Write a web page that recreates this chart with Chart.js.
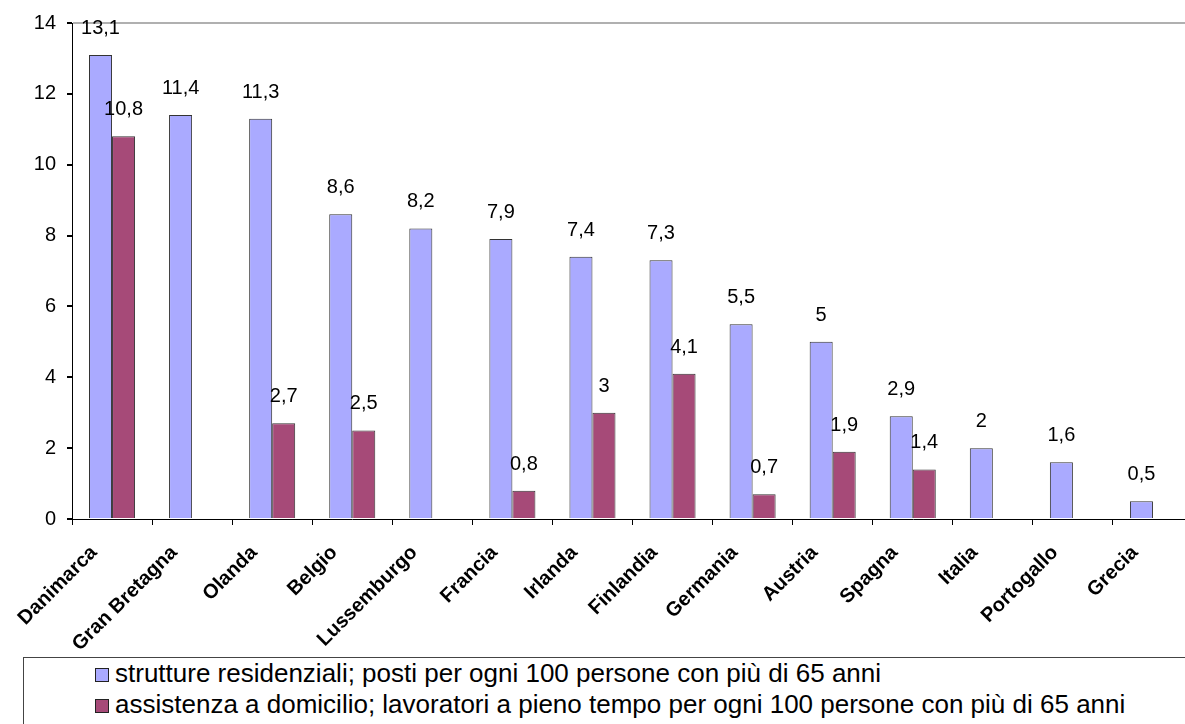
<!DOCTYPE html>
<html>
<head>
<meta charset="utf-8">
<script src="https://cdn.jsdelivr.net/npm/chart.js@4.4.0/dist/chart.umd.min.js"></script>
<style>
  body { margin: 0; background: #fff; width: 1185px; height: 724px; overflow: hidden; position: relative; font-family: Arial, "Liberation Sans", sans-serif; }
  #wrap { position: absolute; left: 0; top: 0; width: 1193px; height: 724px; }
  #legend { position: absolute; left: 23px; top: 657px; width: 1200px; height: 100px; border: 1px solid #444; box-sizing: border-box; background: #fff; }
  .row { height: 31px; line-height: 31px; font-size: 26px; color: #000; padding-left: 71px; white-space: nowrap; }
  .box { display: inline-block; width: 12px; height: 12px; border: 1px solid #222; margin-right: 6px; vertical-align: baseline; }
</style>
</head>
<body>
<div id="wrap"><canvas id="chart"></canvas></div>
<div id="legend"></div>
<script>
// Countries along the x axis
const countries = ['Danimarca', 'Gran Bretagna', 'Olanda', 'Belgio', 'Lussemburgo', 'Francia', 'Irlanda',
  'Finlandia', 'Germania', 'Austria', 'Spagna', 'Italia', 'Portogallo', 'Grecia'];

// Residential places per 100 people over 65
const residenziali = [13.1, 11.4, 11.3, 8.6, 8.2, 7.9, 7.4, 7.3, 5.5, 5, 2.9, 2, 1.6, 0.5];

// Home care full-time workers per 100 people over 65 (null = no bar)
const domicilio = [10.8, null, 2.7, 2.5, null, 0.8, 3, 4.1, 0.7, 1.9, 1.4, null, null, null];

const seriesNames = [
  'strutture residenziali; posti per ogni 100 persone con più di 65 anni',
  'assistenza a domicilio; lavoratori a pieno tempo per ogni 100 persone con più di 65 anni'
];
const seriesColors = ['#aaaaff', '#a64a78'];

const yTicks = [0, 2, 4, 6, 8, 10, 12, 14];

// Value labels above each bar, with a comma as decimal separator
const barLabels = {
  id: 'barLabels',
  afterDatasetsDraw(chart) {
    const ctx = chart.ctx;
    ctx.save();
    ctx.font = '20px Arial, "Liberation Sans"';
    ctx.fillStyle = '#000';
    ctx.textAlign = 'center';
    ctx.textBaseline = 'alphabetic';
    chart.data.datasets.forEach((ds, i) => {
      chart.getDatasetMeta(i).data.forEach((bar, j) => {
        const v = ds.data[j];
        if (v === null) return;
        ctx.fillText(String(v).replace('.', ','), bar.x, bar.y - 21);
      });
    });
    ctx.restore();
  }
};

const ctx = document.getElementById('chart');
new Chart(ctx, {
  type: 'bar',
  data: {
    labels: countries,
    datasets: [
      { label: seriesNames[0], data: residenziali, backgroundColor: seriesColors[0], borderColor: '#333', borderWidth: 1 },
      { label: seriesNames[1], data: domicilio, backgroundColor: seriesColors[1], borderColor: '#333', borderWidth: 1 }
    ]
  },
  options: {
    responsive: true,
    maintainAspectRatio: false,
    animation: false,
    categoryPercentage: 0.575,
    barPercentage: 1,
    layout: { padding: { left: 0, right: 0, top: 23, bottom: 0 } },
    plugins: {
      legend: { display: false },
      tooltip: { enabled: false }
    },
    scales: {
      x: {
        afterFit(scale) { scale.height = 205; },
        border: { display: true, color: '#000', width: 1 },
        grid: { offset: true, drawOnChartArea: false, tickLength: 6, tickColor: '#000' },
        ticks: {
          color: '#000',
          font: { family: 'Arial, "Liberation Sans"', size: 20, weight: 'bold' },
          minRotation: 45,
          maxRotation: 45,
          padding: 16,
          labelOffset: -18,
          autoSkip: false
        }
      },
      y: {
        min: 0,
        max: 14,
        afterFit(scale) { scale.width = 72; },
        afterBuildTicks(scale) { scale.ticks = yTicks.map(v => ({ value: v })); },
        border: { display: true, color: '#000', width: 1 },
        grid: {
          color: c => (c.tick && c.tick.value === 14 ? '#b0b0b0' : 'transparent'),
          lineWidth: 2,
          tickLength: 5,
          tickColor: '#000'
        },
        ticks: {
          color: '#000',
          font: { family: 'Arial, "Liberation Sans"', size: 20 },
          padding: 11
        }
      }
    }
  },
  plugins: [barLabels]
});

// HTML legend in a bordered box, like the original
const legend = document.getElementById('legend');
seriesNames.forEach((name, i) => {
  const row = document.createElement('div');
  row.className = 'row';
  const box = document.createElement('span');
  box.className = 'box';
  box.style.background = seriesColors[i];
  row.appendChild(box);
  row.appendChild(document.createTextNode(name));
  legend.appendChild(row);
});
</script>
</body>
</html>
